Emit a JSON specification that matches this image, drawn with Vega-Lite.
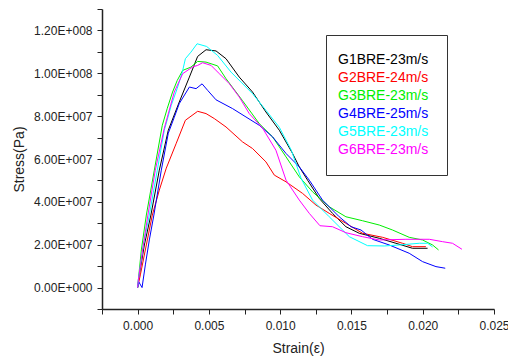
{
 "$schema": "https://vega.github.io/schema/vega-lite/v6.json",
 "width": 392, "height": 300,
 "autosize": {"type": "none"},
 "padding": {"left": 102, "top": 9, "right": 14, "bottom": 49},
 "background": "white",
 "config": {"view": {"stroke": null}, "font": "Liberation Sans"},
 "datasets": {
  "pts": [
   {"series":"G1BRE-23m/s","strain":0,"stress":0},{"series":"G1BRE-23m/s","strain":0.00012,"stress":5.91e6},{"series":"G1BRE-23m/s","strain":0.00047,"stress":1.988e7},{"series":"G1BRE-23m/s","strain":0.00093,"stress":3.385e7},{"series":"G1BRE-23m/s","strain":0.00152,"stress":5.48e7},{"series":"G1BRE-23m/s","strain":0.00215,"stress":7.342e7},{"series":"G1BRE-23m/s","strain":0.00292,"stress":8.659e7},{"series":"G1BRE-23m/s","strain":0.00363,"stress":9.823e7},{"series":"G1BRE-23m/s","strain":0.00421,"stress":1.0787e8},{"series":"G1BRE-23m/s","strain":0.0048,"stress":1.1099e8},{"series":"G1BRE-23m/s","strain":0.0055,"stress":1.1043e8},{"series":"G1BRE-23m/s","strain":0.0062,"stress":1.068e8},{"series":"G1BRE-23m/s","strain":0.00713,"stress":9.823e7},{"series":"G1BRE-23m/s","strain":0.00806,"stress":9.125e7},{"series":"G1BRE-23m/s","strain":0.009,"stress":8.194e7},{"series":"G1BRE-23m/s","strain":0.00994,"stress":7.342e7},{"series":"G1BRE-23m/s","strain":0.01087,"stress":6.257e7},{"series":"G1BRE-23m/s","strain":0.01134,"stress":5.633e7},{"series":"G1BRE-23m/s","strain":0.01192,"stress":5.014e7},{"series":"G1BRE-23m/s","strain":0.01274,"stress":4.162e7},{"series":"G1BRE-23m/s","strain":0.01367,"stress":3.464e7},{"series":"G1BRE-23m/s","strain":0.01461,"stress":2.84e7},{"series":"G1BRE-23m/s","strain":0.01555,"stress":2.533e7},{"series":"G1BRE-23m/s","strain":0.01695,"stress":2.3e7},{"series":"G1BRE-23m/s","strain":0.01812,"stress":2.067e7},{"series":"G1BRE-23m/s","strain":0.01928,"stress":1.834e7},{"series":"G1BRE-23m/s","strain":0.02034,"stress":1.834e7},
   {"series":"G2BRE-24m/s","strain":0,"stress":0},{"series":"G2BRE-24m/s","strain":0.00019,"stress":5.91e6},{"series":"G2BRE-24m/s","strain":0.00061,"stress":1.988e7},{"series":"G2BRE-24m/s","strain":0.00103,"stress":3.385e7},{"series":"G2BRE-24m/s","strain":0.00152,"stress":4.548e7},{"series":"G2BRE-24m/s","strain":0.00201,"stress":5.573e7},{"series":"G2BRE-24m/s","strain":0.00271,"stress":6.736e7},{"series":"G2BRE-24m/s","strain":0.00335,"stress":7.807e7},{"series":"G2BRE-24m/s","strain":0.00421,"stress":8.226e7},{"series":"G2BRE-24m/s","strain":0.0048,"stress":8.119e7},{"series":"G2BRE-24m/s","strain":0.00538,"stress":7.886e7},{"series":"G2BRE-24m/s","strain":0.0062,"stress":7.495e7},{"series":"G2BRE-24m/s","strain":0.00736,"stress":6.797e7},{"series":"G2BRE-24m/s","strain":0.00806,"stress":6.49e7},{"series":"G2BRE-24m/s","strain":0.009,"stress":5.866e7},{"series":"G2BRE-24m/s","strain":0.00959,"stress":5.247e7},{"series":"G2BRE-24m/s","strain":0.01041,"stress":4.935e7},{"series":"G2BRE-24m/s","strain":0.01157,"stress":4.395e7},{"series":"G2BRE-24m/s","strain":0.01251,"stress":3.85e7},{"series":"G2BRE-24m/s","strain":0.01344,"stress":3.464e7},{"series":"G2BRE-24m/s","strain":0.01461,"stress":2.998e7},{"series":"G2BRE-24m/s","strain":0.01578,"stress":2.533e7},{"series":"G2BRE-24m/s","strain":0.01718,"stress":2.346e7},{"series":"G2BRE-24m/s","strain":0.01858,"stress":2.067e7},{"series":"G2BRE-24m/s","strain":0.01928,"stress":1.909e7},{"series":"G2BRE-24m/s","strain":0.02022,"stress":1.909e7},
   {"series":"G3BRE-23m/s","strain":0,"stress":0},{"series":"G3BRE-23m/s","strain":0.00005,"stress":3.58e6},{"series":"G3BRE-23m/s","strain":0.00026,"stress":1.755e7},{"series":"G3BRE-23m/s","strain":0.00061,"stress":3.385e7},{"series":"G3BRE-23m/s","strain":0.00117,"stress":5.48e7},{"series":"G3BRE-23m/s","strain":0.00173,"stress":7.575e7},{"series":"G3BRE-23m/s","strain":0.00208,"stress":8.366e7},{"series":"G3BRE-23m/s","strain":0.00245,"stress":9.125e7},{"series":"G3BRE-23m/s","strain":0.00278,"stress":9.669e7},{"series":"G3BRE-23m/s","strain":0.00316,"stress":1.0135e8},{"series":"G3BRE-23m/s","strain":0.00374,"stress":1.0289e8},{"series":"G3BRE-23m/s","strain":0.00421,"stress":1.0554e8},{"series":"G3BRE-23m/s","strain":0.0048,"stress":1.0521e8},{"series":"G3BRE-23m/s","strain":0.00561,"stress":1.0345e8},{"series":"G3BRE-23m/s","strain":0.0062,"stress":9.749e7},{"series":"G3BRE-23m/s","strain":0.00734,"stress":8.738e7},{"series":"G3BRE-23m/s","strain":0.00853,"stress":7.654e7},{"series":"G3BRE-23m/s","strain":0.00947,"stress":7.03e7},{"series":"G3BRE-23m/s","strain":0.01041,"stress":6.099e7},{"series":"G3BRE-23m/s","strain":0.01134,"stress":5.168e7},{"series":"G3BRE-23m/s","strain":0.01227,"stress":4.469e7},{"series":"G3BRE-23m/s","strain":0.01344,"stress":3.771e7},{"series":"G3BRE-23m/s","strain":0.01461,"stress":3.305e7},{"series":"G3BRE-23m/s","strain":0.01578,"stress":3.119e7},{"series":"G3BRE-23m/s","strain":0.01695,"stress":2.919e7},{"series":"G3BRE-23m/s","strain":0.01788,"stress":2.686e7},{"series":"G3BRE-23m/s","strain":0.01905,"stress":2.346e7},{"series":"G3BRE-23m/s","strain":0.01999,"stress":2.221e7},{"series":"G3BRE-23m/s","strain":0.02069,"stress":1.988e7},{"series":"G3BRE-23m/s","strain":0.02111,"stress":1.755e7},
   {"series":"G4BRE-25m/s","strain":0,"stress":0},{"series":"G4BRE-25m/s","strain":0.00008,"stress":2.65e6},{"series":"G4BRE-25m/s","strain":0.00031,"stress":0},{"series":"G4BRE-25m/s","strain":0.00054,"stress":1.057e7},{"series":"G4BRE-25m/s","strain":0.00082,"stress":2.221e7},{"series":"G4BRE-25m/s","strain":0.00114,"stress":3.385e7},{"series":"G4BRE-25m/s","strain":0.00166,"stress":5.48e7},{"series":"G4BRE-25m/s","strain":0.00215,"stress":7.202e7},{"series":"G4BRE-25m/s","strain":0.00257,"stress":7.947e7},{"series":"G4BRE-25m/s","strain":0.00292,"stress":8.585e7},{"series":"G4BRE-25m/s","strain":0.00363,"stress":9.358e7},{"series":"G4BRE-25m/s","strain":0.0041,"stress":9.283e7},{"series":"G4BRE-25m/s","strain":0.00452,"stress":9.507e7},{"series":"G4BRE-25m/s","strain":0.00491,"stress":9.204e7},{"series":"G4BRE-25m/s","strain":0.0055,"stress":8.762e7},{"series":"G4BRE-25m/s","strain":0.00666,"stress":8.352e7},{"series":"G4BRE-25m/s","strain":0.0076,"stress":7.961e7},{"series":"G4BRE-25m/s","strain":0.00853,"stress":7.575e7},{"series":"G4BRE-25m/s","strain":0.00947,"stress":7.03e7},{"series":"G4BRE-25m/s","strain":0.01041,"stress":6.257e7},{"series":"G4BRE-25m/s","strain":0.01134,"stress":5.633e7},{"series":"G4BRE-25m/s","strain":0.01204,"stress":5.014e7},{"series":"G4BRE-25m/s","strain":0.01297,"stress":4.083e7},{"series":"G4BRE-25m/s","strain":0.01414,"stress":3.305e7},{"series":"G4BRE-25m/s","strain":0.01497,"stress":2.84e7},{"series":"G4BRE-25m/s","strain":0.01567,"stress":2.686e7},{"series":"G4BRE-25m/s","strain":0.01648,"stress":2.253e7},{"series":"G4BRE-25m/s","strain":0.01765,"stress":1.988e7},{"series":"G4BRE-25m/s","strain":0.01905,"stress":1.601e7},{"series":"G4BRE-25m/s","strain":0.01999,"stress":1.21e7},{"series":"G4BRE-25m/s","strain":0.02093,"stress":9.78e6},{"series":"G4BRE-25m/s","strain":0.02158,"stress":9.03e6},
   {"series":"G5BRE-23m/s","strain":0,"stress":0},{"series":"G5BRE-23m/s","strain":0.00005,"stress":3.58e6},{"series":"G5BRE-23m/s","strain":0.0004,"stress":1.988e7},{"series":"G5BRE-23m/s","strain":0.00082,"stress":3.385e7},{"series":"G5BRE-23m/s","strain":0.00138,"stress":5.48e7},{"series":"G5BRE-23m/s","strain":0.00187,"stress":7.342e7},{"series":"G5BRE-23m/s","strain":0.00236,"stress":8.506e7},{"series":"G5BRE-23m/s","strain":0.00278,"stress":9.297e7},{"series":"G5BRE-23m/s","strain":0.00313,"stress":1.0042e8},{"series":"G5BRE-23m/s","strain":0.00335,"stress":1.068e8},{"series":"G5BRE-23m/s","strain":0.00374,"stress":1.0987e8},{"series":"G5BRE-23m/s","strain":0.00417,"stress":1.1378e8},{"series":"G5BRE-23m/s","strain":0.00484,"stress":1.1252e8},{"series":"G5BRE-23m/s","strain":0.00561,"stress":1.0833e8},{"series":"G5BRE-23m/s","strain":0.00655,"stress":1.0056e8},{"series":"G5BRE-23m/s","strain":0.00725,"stress":9.59e7},{"series":"G5BRE-23m/s","strain":0.00806,"stress":9.05e7},{"series":"G5BRE-23m/s","strain":0.009,"stress":8.273e7},{"series":"G5BRE-23m/s","strain":0.00994,"stress":7.481e7},{"series":"G5BRE-23m/s","strain":0.01078,"stress":6.411e7},{"series":"G5BRE-23m/s","strain":0.01146,"stress":5.107e7},{"series":"G5BRE-23m/s","strain":0.01227,"stress":4.083e7},{"series":"G5BRE-23m/s","strain":0.01344,"stress":3.305e7},{"series":"G5BRE-23m/s","strain":0.01485,"stress":2.374e7},{"series":"G5BRE-23m/s","strain":0.01613,"stress":1.955e7},{"series":"G5BRE-23m/s","strain":0.0173,"stress":1.941e7},{"series":"G5BRE-23m/s","strain":0.01835,"stress":1.988e7},{"series":"G5BRE-23m/s","strain":0.01976,"stress":2.067e7},{"series":"G5BRE-23m/s","strain":0.02034,"stress":2.067e7},{"series":"G5BRE-23m/s","strain":0.02069,"stress":1.895e7},
   {"series":"G6BRE-23m/s","strain":0,"stress":0},{"series":"G6BRE-23m/s","strain":0.00005,"stress":3.58e6},{"series":"G6BRE-23m/s","strain":0.0004,"stress":1.988e7},{"series":"G6BRE-23m/s","strain":0.00072,"stress":3.385e7},{"series":"G6BRE-23m/s","strain":0.00124,"stress":5.48e7},{"series":"G6BRE-23m/s","strain":0.00187,"stress":7.435e7},{"series":"G6BRE-23m/s","strain":0.00257,"stress":9.125e7},{"series":"G6BRE-23m/s","strain":0.00316,"stress":9.981e7},{"series":"G6BRE-23m/s","strain":0.00386,"stress":1.0298e8},{"series":"G6BRE-23m/s","strain":0.00421,"stress":1.0368e8},{"series":"G6BRE-23m/s","strain":0.00456,"stress":1.0493e8},{"series":"G6BRE-23m/s","strain":0.00515,"stress":1.0368e8},{"series":"G6BRE-23m/s","strain":0.00573,"stress":9.981e7},{"series":"G6BRE-23m/s","strain":0.00643,"stress":9.516e7},{"series":"G6BRE-23m/s","strain":0.00713,"stress":8.892e7},{"series":"G6BRE-23m/s","strain":0.00783,"stress":8.119e7},{"series":"G6BRE-23m/s","strain":0.00877,"stress":7.435e7},{"series":"G6BRE-23m/s","strain":0.0097,"stress":6.411e7},{"series":"G6BRE-23m/s","strain":0.01041,"stress":5.014e7},{"series":"G6BRE-23m/s","strain":0.01134,"stress":4.083e7},{"series":"G6BRE-23m/s","strain":0.01204,"stress":3.464e7},{"series":"G6BRE-23m/s","strain":0.01279,"stress":2.886e7},{"series":"G6BRE-23m/s","strain":0.01367,"stress":2.84e7},{"series":"G6BRE-23m/s","strain":0.01461,"stress":2.561e7},{"series":"G6BRE-23m/s","strain":0.01578,"stress":2.374e7},{"series":"G6BRE-23m/s","strain":0.01695,"stress":2.221e7},{"series":"G6BRE-23m/s","strain":0.01882,"stress":2.253e7},{"series":"G6BRE-23m/s","strain":0.02046,"stress":2.253e7},{"series":"G6BRE-23m/s","strain":0.02139,"stress":2.142e7},{"series":"G6BRE-23m/s","strain":0.02209,"stress":2.067e7},{"series":"G6BRE-23m/s","strain":0.02275,"stress":1.788e7}
  ]
 },
 "data": {"name": "pts"},
 "mark": {"type": "line", "strokeWidth": 1, "clip": true},
 "encoding": {
  "x": {"field": "strain", "type": "quantitative",
   "scale": {"domain": [-0.0025, 0.025], "nice": false, "zero": false},
   "axis": {"title": "Strain(ε)", "values": [-0.0025,0,0.0025,0.005,0.0075,0.01,0.0125,0.015,0.0175,0.02,0.0225,0.025],
    "labelExpr": "abs(datum.value*200 - round(datum.value*200)) < 0.000001 ? format(datum.value, '.3f') : ''",
    "grid": false, "domainColor": "#222", "domainWidth": 1.5, "tickColor": "#222", "tickWidth": 1, "tickSize": 5,
    "labelFontSize": 12, "labelColor": "#222", "labelPadding": 6, "labelFlush": false, "labelOverlap": false,
    "titleFontSize": 14, "titleFontWeight": "normal", "titleColor": "#222", "titlePadding": 10}},
  "y": {"field": "stress", "type": "quantitative",
   "scale": {"domain": [-1e7, 1.3e8], "nice": false, "zero": false},
   "axis": {"title": "Stress(Pa)", "values": [-1e7,0,1e7,2e7,3e7,4e7,5e7,6e7,7e7,8e7,9e7,1e8,1.1e8,1.2e8,1.3e8],
    "labelExpr": "datum.value % 20000000 == 0 ? replace(format(datum.value, '.2e'), 'e+', 'E+00') : ''",
    "grid": false, "domainColor": "#222", "domainWidth": 1.5, "tickColor": "#222", "tickWidth": 1, "tickSize": 5,
    "labelFontSize": 12, "labelColor": "#222", "labelPadding": 5, "labelOverlap": false, "labelFlush": false,
    "titleFontSize": 14, "titleFontWeight": "normal", "titleColor": "#222", "titlePadding": 7}},
  "color": {"field": "series", "type": "nominal",
   "scale": {"domain": ["G1BRE-23m/s","G2BRE-24m/s","G3BRE-23m/s","G4BRE-25m/s","G5BRE-23m/s","G6BRE-23m/s"],
    "range": ["#000000","#ff0000","#00ee00","#0000ff","#00ffff","#ff00ff"]},
   "legend": {"title": null, "orient": "none", "legendX": 224, "legendY": 26,
    "strokeColor": "#333", "fillColor": "white", "padding": 18, "cornerRadius": 0,
    "symbolSize": 0.0001, "symbolOpacity": 0, "symbolStrokeWidth": 0, "labelOffset": -20,
    "labelFontSize": 14, "labelFont": "Liberation Sans", "rowPadding": 4, "labelLimit": 300,
    "encode": {"labels": {"update": {"fill": {"scale": "color", "field": "value"}}}}}}
 }
}
